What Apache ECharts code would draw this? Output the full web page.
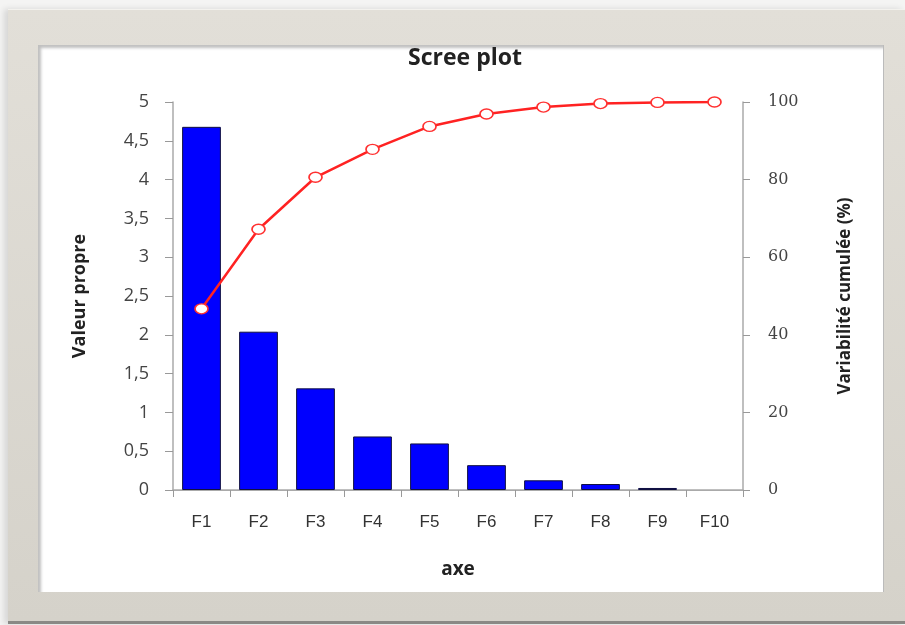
<!DOCTYPE html>
<html>
<head>
<meta charset="utf-8">
<script src="https://cdn.jsdelivr.net/npm/echarts@6/dist/echarts.min.js"></script>
<style>
  html, body { margin: 0; padding: 0; }
  body { width: 905px; height: 625px; background: #f4f4f3; position: relative; overflow: hidden; }
  #frame { position: absolute; left: 8px; top: 9px; width: 897px; height: 611px;
           background: linear-gradient(#e2dfd8, #d5d2ca); border-top: 1px solid #f3f2ee;
           border-bottom: 3px solid #8a8985; box-shadow: -4px 0 6px rgba(0,0,0,0.12); }
  #panel { position: absolute; left: 38px; top: 45px; width: 845px; height: 547px; background: #fff;
           box-shadow: inset 3px 3px 3px rgba(0,0,0,0.25); border-right: 1px solid #bbb; }
  #chart { position: absolute; left: 0; top: 0; width: 905px; height: 625px; }
</style>
</head>
<body>
<div id="frame"></div>
<div id="panel"></div>
<div id="chart"></div>
<script>
const categories = ['F1', 'F2', 'F3', 'F4', 'F5', 'F6', 'F7', 'F8', 'F9', 'F10'];
const eigenvalues = [4.68, 2.04, 1.31, 0.69, 0.60, 0.32, 0.125, 0.077, 0.026, 0.0];
const cumulative = [46.7, 67.2, 80.6, 87.8, 93.7, 96.9, 98.7, 99.6, 99.9, 100];

const chart = echarts.init(document.getElementById('chart'), null, { renderer: 'canvas' });
chart.setOption({
  backgroundColor: 'transparent',
  animation: false,
  title: {
    text: 'Scree plot', left: 460, top: 42, textAlign: 'center',
    textStyle: { fontFamily: 'Open Sans', fontWeight: 'bold', fontSize: 23, color: '#222' }
  },
  grid: { left: 173, right: 162, top: 102, bottom: 135, containLabel: false },
  xAxis: [{
    type: 'category', data: categories, position: 'bottom',
    axisLine: { lineStyle: { color: '#aaa', width: 1.5 } },
    axisTick: { show: true, length: 7, lineStyle: { color: '#999' } },
    axisLabel: { color: '#333', fontSize: 17, margin: 24, fontFamily: 'Liberation Sans' },
    name: 'axe', nameLocation: 'middle', nameGap: 70,
    nameTextStyle: { fontFamily: 'Open Sans', fontWeight: 'bold', fontSize: 19, color: '#222' }
  }, {
    type: 'category', data: categories, position: 'top',
    axisLine: { show: true, lineStyle: { color: '#aaa', width: 1 } },
    axisTick: { show: false }, axisLabel: { show: false }
  }],
  yAxis: [{
    type: 'value', min: 0, max: 5, interval: 0.5, position: 'left',
    axisLine: { show: true, lineStyle: { color: '#aaa', width: 1.5 } },
    axisTick: { show: true, length: 8, lineStyle: { color: '#999' } },
    splitLine: { show: false },
    axisLabel: { color: '#444', fontSize: 18, margin: 24, fontFamily: 'Open Sans',
      formatter: v => String(v).replace('.', ',') },
    name: 'Valeur propre', nameLocation: 'middle', nameGap: 84, nameRotate: 90,
    nameTextStyle: { fontFamily: 'Open Sans', fontWeight: 'bold', fontSize: 18, color: '#222' }
  }, {
    type: 'value', min: 0, max: 100, interval: 20, position: 'right',
    axisLine: { show: true, lineStyle: { color: '#aaa', width: 1.5 } },
    axisTick: { show: true, length: 7, lineStyle: { color: '#999' } },
    splitLine: { show: false },
    axisLabel: { color: '#444', fontSize: 16, margin: 25, fontFamily: 'DejaVu Serif' },
    name: 'Variabilité cumulée (%)', nameLocation: 'middle', nameGap: 94, nameRotate: 90,
    nameTextStyle: { fontFamily: 'Open Sans', fontWeight: 'bold', fontSize: 17, color: '#222' }
  }],
  series: [{
    type: 'bar', xAxisIndex: 0, yAxisIndex: 0,
    data: eigenvalues.map(v => v > 0 ? v : { value: v, itemStyle: { borderWidth: 0 } }),
    barWidth: '68%',
    itemStyle: { color: '#0000ff', borderColor: '#101040', borderWidth: 1 }
  }, {
    type: 'line', data: cumulative, xAxisIndex: 0, yAxisIndex: 1,
    symbol: 'circle', symbolSize: [13, 10], showAllSymbol: true,
    lineStyle: { color: '#ff2222', width: 2.5 },
    itemStyle: { color: '#ffffff', borderColor: '#ff3030', borderWidth: 1.5 },
    z: 5
  }]
});
</script>
</body>
</html>
